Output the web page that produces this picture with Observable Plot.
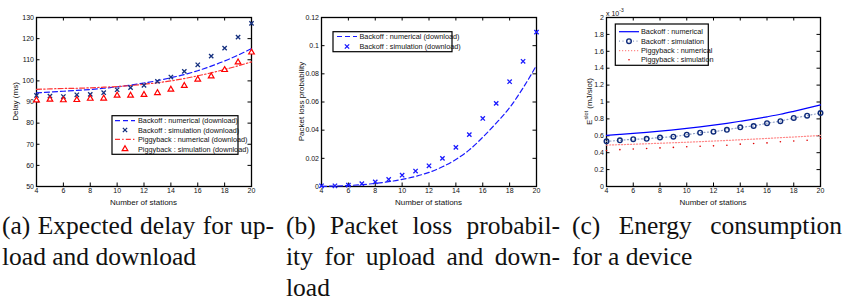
<!DOCTYPE html>
<html><head><meta charset="utf-8">
<script src="https://cdn.jsdelivr.net/npm/d3@7"></script>
<script src="https://cdn.jsdelivr.net/npm/@observablehq/plot@0.6"></script>
<style>
body{margin:0;background:#fff;}
#root{position:relative;width:847px;height:302px;overflow:hidden;background:#fff;}
.panel{position:absolute;top:0;}
.cap{position:absolute;top:210px;font-family:"Liberation Serif","DejaVu Serif",serif;font-size:25.5px;line-height:31px;color:#111;}
.cap div{white-space:nowrap;}
.j{text-align:justify;text-align-last:justify;white-space:normal !important;}
</style></head><body><div id="root"></div>
<script>
// ---- data ----
const stations = [4,5,6,7,8,9,10,11,12,13,14,15,16,17,18,19,20];
const xTicks = [4,6,8,10,12,14,16,18,20];

// (a) delay (ms)
const delayTicks = [50,60,70,80,90,100,110,120,130];
const delayBackoffNum = [94.3,94.7,95.1,95.5,95.9,96.5,97.2,98.0,99.0,100.1,101.5,103.0,104.8,107.0,109.4,112.2,115.3];
const delayBackoffSim = [93.1,92.8,92.6,93.4,93.6,94.4,95.8,96.8,97.9,99.8,101.8,104.5,107.6,111.7,115.5,120.7,127.2];
const delayPiggyNum = [96.0,96.2,96.4,96.5,96.7,97.0,97.3,97.8,98.4,99.1,100.0,101.1,102.4,103.8,105.4,107.1,109.0];
const delayPiggySim = [90.8,91.2,90.9,91.0,91.6,91.7,93.1,93.1,93.4,94.3,95.9,97.7,100.7,102.2,105.2,108.8,113.5];

// (b) packet loss probability
const lossTicks = [0,0.02,0.04,0.06,0.08,0.1,0.12];
const lossNum = [0.0001,0.0003,0.0007,0.0013,0.0022,0.0034,0.005,0.0072,0.0100,0.0140,0.0192,0.026,0.035,0.045,0.056,0.070,0.086];
const lossSim = [0.0005,0.0005,0.001,0.002,0.0033,0.005,0.008,0.011,0.0147,0.020,0.0278,0.0368,0.0483,0.059,0.0744,0.0889,0.1096];

// (c) energy per slot, in units of 1e-3 mJ/slot
const energyTicks = [0,0.2,0.4,0.6,0.8,1,1.2,1.4,1.6,1.8,2];
const energyBackoffNum = [0.604,0.616,0.628,0.641,0.655,0.671,0.688,0.706,0.726,0.748,0.772,0.797,0.825,0.855,0.89,0.927,0.966];
const energyBackoffSim = [0.535,0.546,0.560,0.564,0.580,0.590,0.613,0.637,0.649,0.671,0.700,0.716,0.749,0.773,0.811,0.838,0.870];
const energyPiggyNum = [0.490,0.495,0.500,0.506,0.512,0.518,0.524,0.531,0.538,0.545,0.553,0.561,0.569,0.578,0.586,0.595,0.604];
const energyPiggySim = [0.426,0.436,0.444,0.449,0.457,0.463,0.471,0.477,0.481,0.489,0.501,0.509,0.516,0.530,0.538,0.548,0.570];

const captions = [
  {left:2, width:272, lines:[["(a) Expected delay for up-",true],["load and download",false]]},
  {left:286, width:274, lines:[["(b) Packet loss probabil-",true],["ity for upload and down-",true],["load",false]]},
  {left:572, width:270, lines:[["(c) Energy consumption",true],["for a device",false]]}
];

// ---- drawing ----
const root = document.getElementById("root");
const FONT = "'Liberation Sans', Arial, Helvetica, sans-serif";
const symMap = {times: d3.symbolTimes, triangle2: d3.symbolTriangle2, circle: d3.symbolCircle};

function panel({left, width, ml, mr, yDomain, yTicks, marks, legend, ylabel}) {
  const H = 210, mt = 17, mb = 24;
  const fh = H - mt - mb, fw = width - ml - mr;
  const svg = Plot.plot({
    width, height: H, marginLeft: ml, marginRight: mr, marginTop: mt, marginBottom: mb,
    style: {fontFamily: FONT, fontSize: "7px", color: "#111", background: "transparent", overflow: "visible"},
    x: {domain: [4, 20]},
    y: {domain: yDomain},
    marks: [
      Plot.axisX(xTicks, {tickSize: 0, tickPadding: 1.5, label: null, fill: "#111"}),
      Plot.axisY(yTicks, {tickSize: 0, tickPadding: 2.5, label: null, fill: "#111", tickFormat: d => String(d)}),
      Plot.tickX(xTicks, {x: d => d, insetTop: fh - 3.5, stroke: "#000"}),
      Plot.tickX(xTicks, {x: d => d, insetBottom: fh - 3.5, stroke: "#000"}),
      Plot.tickY(yTicks, {y: d => d, insetLeft: fw - 3.5, stroke: "#000"}),
      Plot.tickY(yTicks, {y: d => d, insetRight: fw - 3.5, stroke: "#000"}),
      Plot.frame({stroke: "#000", strokeWidth: 1.3}),
      ...marks
    ]
  });
  const s = d3.select(svg);
  // x label
  s.append("text").attr("x", ml + fw / 2).attr("y", 202).attr("text-anchor", "middle")
    .attr("dominant-baseline", "central").attr("font-size", 8).attr("font-family", FONT).attr("fill", "#111")
    .text("Number of stations");
  // y label
  const yl = s.append("text").attr("transform", `translate(${ylabel.x},${mt + fh / 2}) rotate(-90)`)
    .attr("text-anchor", "middle").attr("dominant-baseline", "central").attr("font-size", 8)
    .attr("font-family", FONT).attr("fill", "#111");
  ylabel.parts.forEach(p => {
    const t = yl.append("tspan").text(p.t);
    if (p.sup) t.attr("font-size", 5.5).attr("dy", -3.5);
    else if (p.after) t.attr("dy", 3.5);
  });
  // legend
  const g = s.append("g").attr("text-anchor", "start");
  g.append("rect").attr("x", legend.x0).attr("y", legend.y0).attr("width", legend.x1 - legend.x0)
    .attr("height", legend.y1 - legend.y0).attr("fill", "#fff").attr("stroke", "#000").attr("stroke-width", 1.2);
  legend.items.forEach((it, i) => {
    const y = legend.rows[i];
    if (it.line) {
      g.append("line").attr("x1", legend.lx).attr("x2", legend.lx + 20).attr("y1", y).attr("y2", y)
        .attr("stroke", it.line.stroke).attr("stroke-width", it.line.width)
        .attr("stroke-dasharray", it.line.dash || null);
    }
    if (it.marker) {
      const m = it.marker;
      g.append("path").attr("transform", `translate(${legend.lx + 10},${y})`)
        .attr("d", d3.symbol().type(symMap[m.symbol]).size(Math.PI * m.r * m.r)())
        .attr("fill", m.fill || "none").attr("stroke", m.stroke || "none").attr("stroke-width", m.sw || 1);
    }
    g.append("text").attr("x", legend.tx).attr("y", y).attr("dominant-baseline", "central")
      .attr("text-anchor", "start")
      .attr("font-size", 7.3).attr("font-family", FONT).attr("fill", "#111").text(it.label);
  });
  const wrap = document.createElement("div");
  wrap.className = "panel";
  wrap.style.left = left + "px";
  wrap.appendChild(svg);
  root.appendChild(wrap);
  return s;
}

const X = (d) => d;
const curve = "monotone-x";

// (a)
const aBN = {stroke: "#1a1aff", width: 1.2, dash: "5,3"};
const aPN = {stroke: "#ff3333", width: 1.2, dash: "5,2.2,1.4,2.2"};
const aBS = {symbol: "times", stroke: "#15307f", r: 2.1, sw: 1.3};
const aPS = {symbol: "triangle2", stroke: "#ff0000", r: 2.7, sw: 1.2};
panel({
  left: 0, width: 260, ml: 36, mr: 9, yDomain: [50, 130], yTicks: delayTicks,
  ylabel: {x: 15, parts: [{t: "Delay (ms)"}]},
  marks: [
    Plot.line(stations, {x: X, y: (d, i) => delayBackoffNum[i], stroke: aBN.stroke, strokeWidth: aBN.width, strokeDasharray: aBN.dash, curve}),
    Plot.line(stations, {x: X, y: (d, i) => delayPiggyNum[i], stroke: aPN.stroke, strokeWidth: aPN.width, strokeDasharray: aPN.dash, curve}),
    Plot.dot(stations, {x: X, y: (d, i) => delayBackoffSim[i], symbol: aBS.symbol, stroke: aBS.stroke, r: aBS.r, strokeWidth: aBS.sw}),
    Plot.dot(stations, {x: X, y: (d, i) => delayPiggySim[i], symbol: aPS.symbol, stroke: aPS.stroke, fill: "#fff", r: aPS.r, strokeWidth: aPS.sw})
  ],
  legend: {x0: 112, x1: 238, y0: 115.7, y1: 154.3, rows: [120.7, 130, 139.4, 149], lx: 115, tx: 138,
    items: [
      {line: aBN, label: "Backoff : numerical (download)"},
      {marker: aBS, label: "Backoff : simulation (download)"},
      {line: aPN, label: "Piggyback : numerical (download)"},
      {marker: aPS, label: "Piggyback : simulation (download)"}
    ]}
});

// (b)
const bN = {stroke: "#1a1aff", width: 1.2, dash: "5,3"};
const bS = {symbol: "times", stroke: "#1a1aff", r: 2.1, sw: 1.3};
panel({
  left: 280, width: 280, ml: 41, mr: 24, yDomain: [0, 0.12], yTicks: lossTicks,
  ylabel: {x: 21, parts: [{t: "Packet loss probability"}]},
  marks: [
    Plot.line(stations, {x: X, y: (d, i) => lossNum[i], stroke: bN.stroke, strokeWidth: bN.width, strokeDasharray: bN.dash, curve}),
    Plot.dot(stations, {x: X, y: (d, i) => lossSim[i], symbol: bS.symbol, stroke: bS.stroke, r: bS.r, strokeWidth: bS.sw})
  ],
  legend: {x0: 53, x1: 172, y0: 31.7, y1: 51.7, rows: [36.5, 46.5], lx: 57, tx: 79.5,
    items: [
      {line: bN, label: "Backoff : numerical (download)"},
      {marker: bS, label: "Backoff : simulation (download)"}
    ]}
});

// (c)
const cBN = {stroke: "#0000ff", width: 1.2};
const cBSl = {stroke: "#8c9cc4", width: 1.2, dash: "1,2.5"};
const cBS = {symbol: "circle", stroke: "#0d2a7a", r: 2.3, sw: 1.4};
const cPN = {stroke: "#ff8a8a", width: 1.2, dash: "1.2,1.8"};
const cPS = {symbol: "circle", fill: "#e00000", r: 0.8};
const sc = panel({
  left: 560, width: 287, ml: 46, mr: 27, yDomain: [0, 2], yTicks: energyTicks,
  ylabel: {x: 29, parts: [{t: "E"}, {t: "slot", sup: true}, {t: " (mJ/slot)", after: true}]},
  marks: [
    Plot.line(stations, {x: X, y: (d, i) => energyBackoffNum[i], stroke: cBN.stroke, strokeWidth: cBN.width, curve}),
    Plot.line(stations, {x: X, y: (d, i) => energyBackoffSim[i], stroke: cBSl.stroke, strokeWidth: cBSl.width, strokeDasharray: cBSl.dash}),
    Plot.line(stations, {x: X, y: (d, i) => energyPiggyNum[i], stroke: cPN.stroke, strokeWidth: cPN.width, strokeDasharray: cPN.dash, curve}),
    Plot.dot(stations, {x: X, y: (d, i) => energyBackoffSim[i], symbol: "circle", stroke: cBS.stroke, fill: "none", r: cBS.r, strokeWidth: cBS.sw}),
    Plot.dot(stations, {x: X, y: (d, i) => energyPiggySim[i], symbol: "circle", fill: cPS.fill, r: cPS.r})
  ],
  legend: {x0: 55.3, x1: 148.3, y0: 24, y1: 65.3, rows: [31.7, 41.2, 50.6, 59.7], lx: 59, tx: 81,
    items: [
      {line: cBN, label: "Backoff : numerical"},
      {line: cBSl, marker: cBS, label: "Backoff : simulation"},
      {line: cPN, label: "Piggyback : numerical"},
      {marker: cPS, label: "Piggyback : simulation"}
    ]}
});
// exponent note
const ex = sc.append("text").attr("x", 46).attr("y", 13).attr("font-size", 7).attr("font-family", FONT)
  .attr("fill", "#111").attr("dominant-baseline", "central").attr("text-anchor", "start");
ex.append("tspan").text("x 10");
ex.append("tspan").text("-3").attr("font-size", 5).attr("dy", -3.5);

// captions
captions.forEach(c => {
  const d = document.createElement("div");
  d.className = "cap";
  d.style.left = c.left + "px";
  d.style.width = c.width + "px";
  c.lines.forEach(([t, just]) => {
    const l = document.createElement("div");
    if (just) l.className = "j";
    l.textContent = t;
    d.appendChild(l);
  });
  root.appendChild(d);
});
</script>
</body></html>
